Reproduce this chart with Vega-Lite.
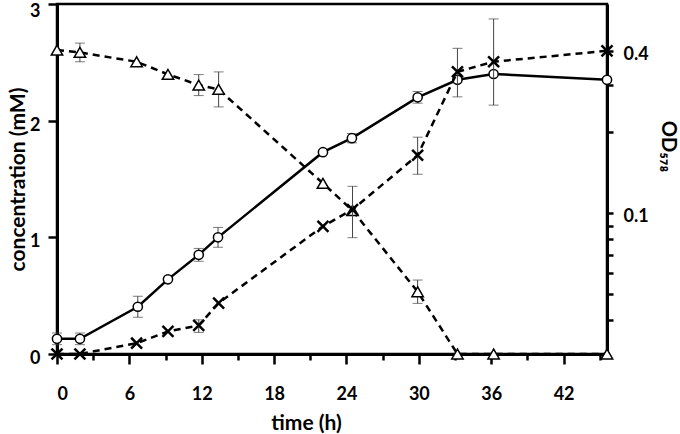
{
  "$schema": "https://vega.github.io/schema/vega-lite/v6.json",
  "width": 550,
  "height": 350,
  "autosize": {"type": "none"},
  "padding": {"left": 57, "top": 4, "right": 73, "bottom": 80},
  "background": "white",
  "config": {
    "view": {"stroke": "black", "strokeWidth": 2.5},
    "font": "Lato",
    "axis": {
      "grid": false,
      "domainColor": "black",
      "domainWidth": 3,
      "tickColor": "black",
      "tickWidth": 2.5,
      "labelFont": "Lato",
      "labelFontWeight": "bold",
      "labelFontSize": 18,
      "labelColor": "black",
      "titleFont": "Lato",
      "titleFontSize": 21,
      "titleFontWeight": "bold",
      "titleColor": "black"
    }
  },
  "datasets": {
    "d": [
      {"s": "circle", "t": 0, "v": 0.13, "lo": 0.08, "hi": 0.18},
      {"s": "circle", "t": 1.9, "v": 0.13, "lo": 0.08, "hi": 0.18},
      {"s": "circle", "t": 6.7, "v": 0.405, "lo": 0.315, "hi": 0.495},
      {"s": "circle", "t": 9.2, "v": 0.64},
      {"s": "circle", "t": 11.75, "v": 0.85, "lo": 0.795, "hi": 0.905},
      {"s": "circle", "t": 13.35, "v": 1.0, "lo": 0.915, "hi": 1.085},
      {"s": "circle", "t": 22.05, "v": 1.73},
      {"s": "circle", "t": 24.45, "v": 1.85, "lo": 1.81, "hi": 1.89},
      {"s": "circle", "t": 29.9, "v": 2.2, "lo": 2.15, "hi": 2.25},
      {"s": "circle", "t": 33.2, "v": 2.35},
      {"s": "circle", "t": 36.2, "v": 2.4},
      {"s": "circle", "t": 45.6, "v": 2.35},
      {"s": "tri", "t": 0, "v": 2.605},
      {"s": "tri", "t": 1.9, "v": 2.585, "lo": 2.505, "hi": 2.665},
      {"s": "tri", "t": 6.6, "v": 2.505},
      {"s": "tri", "t": 9.2, "v": 2.397},
      {"s": "tri", "t": 11.75, "v": 2.305, "lo": 2.215, "hi": 2.395},
      {"s": "tri", "t": 13.4, "v": 2.268, "lo": 2.118, "hi": 2.418},
      {"s": "tri", "t": 22.05, "v": 1.463},
      {"s": "tri", "t": 24.5, "v": 1.23},
      {"s": "tri", "t": 29.9, "v": 0.534, "lo": 0.434, "hi": 0.634},
      {"s": "tri", "t": 33.2, "v": 0},
      {"s": "tri", "t": 36.2, "v": 0},
      {"s": "tri", "t": 45.6, "v": 0},
      {"s": "cross", "t": 0, "v": 0.03},
      {"s": "cross", "t": 1.9, "v": 0.03},
      {"s": "cross", "t": 6.6, "v": 0.0329},
      {"s": "cross", "t": 9.2, "v": 0.0364},
      {"s": "cross", "t": 11.75, "v": 0.0383, "lo": 0.0361, "hi": 0.0402},
      {"s": "cross", "t": 13.4, "v": 0.0464},
      {"s": "cross", "t": 22.05, "v": 0.0895},
      {"s": "cross", "t": 24.5, "v": 0.1033, "lo": 0.0812, "hi": 0.126},
      {"s": "cross", "t": 29.9, "v": 0.1644, "lo": 0.1397, "hi": 0.1919},
      {"s": "cross", "t": 33.2, "v": 0.336, "lo": 0.271, "hi": 0.4106},
      {"s": "cross", "t": 36.2, "v": 0.366, "lo": 0.2525, "hi": 0.528},
      {"s": "cross", "t": 45.6, "v": 0.402}
    ]
  },
  "data": {"name": "d"},
  "encoding": {
    "x": {
      "field": "t",
      "type": "quantitative",
      "scale": {"domain": [0, 45.6], "nice": false, "zero": false},
      "axis": {
        "title": "time (h)",
        "values": [0, 3, 6, 9, 12, 15, 18, 21, 24, 27, 30, 33, 36, 39, 42, 45],
        "labelExpr": "datum.value % 6 === 0 ? datum.label : ''",
        "tickSize": {"condition": {"test": "datum.value % 6 === 0", "value": 10}, "value": 6},
        "labelPadding": 21,
        "titleX": 249,
        "titleY": 69,
        "titleAlign": "center",
        "titleBaseline": "middle"
      }
    }
  },
  "layer": [
    {
      "encoding": {
        "y": {
          "field": "v",
          "type": "quantitative",
          "scale": {"domain": [0, 3], "nice": false},
          "axis": {
            "title": "concentration (mM)",
            "orient": "left",
            "values": [0, 1, 2, 3],
            "tickSize": 9,
            "labelPadding": 8,
            "labelOffset": {"condition": {"test": "datum.value === 3", "value": 7}, "value": 4.5},
            "titleX": -39,
            "titleY": 175,
            "titleAngle": -90,
            "titleAlign": "center",
            "titleBaseline": "middle"
          }
        }
      },
      "layer": [
        {
          "transform": [{"filter": "datum.s === 'circle'"}],
          "mark": {"type": "line", "color": "black", "strokeWidth": 2.5}
        },
        {
          "transform": [{"filter": "datum.s === 'tri'"}],
          "mark": {"type": "line", "color": "black", "strokeWidth": 2.5, "strokeDash": [7, 5]}
        },
        {
          "transform": [{"filter": "datum.s !== 'cross' && isValid(datum.lo)"}],
          "mark": {"type": "errorbar", "ticks": {"size": 10}, "rule": {"strokeWidth": 1}, "color": "#444"},
          "encoding": {
            "y": {"field": "lo", "type": "quantitative", "scale": {"domain": [0, 3], "nice": false}, "title": "concentration (mM)"},
            "y2": {"field": "hi"}
          }
        },
        {
          "transform": [{"filter": "datum.s === 'circle'"}],
          "mark": {"type": "point", "shape": "circle", "filled": true, "fill": "white", "stroke": "black", "strokeWidth": 1.5, "size": 85, "opacity": 1}
        },
        {
          "transform": [{"filter": "datum.s === 'tri'"}],
          "mark": {"type": "point", "shape": "triangle-up", "filled": true, "fill": "white", "stroke": "black", "strokeWidth": 1.5, "size": 130, "opacity": 1}
        }
      ]
    },
    {
      "transform": [{"filter": "datum.s === 'cross'"}],
      "encoding": {
        "y": {
          "field": "v",
          "type": "quantitative",
          "scale": {"type": "log", "domain": [0.03, 0.6], "nice": false},
          "axis": {
            "title": "OD₅₇₈",
            "orient": "right",
            "values": [0.04, 0.05, 0.06, 0.07, 0.08, 0.09, 0.1, 0.2, 0.3, 0.4],
            "labelExpr": "(datum.value === 0.1 || datum.value === 0.4) ? format(datum.value, '.1f') : ''",
            "tickSize": 6,
            "labelPadding": 10,
            "labelOffset": 3,
            "titleFontSize": 20,
            "titleAngle": 90,
            "titleX": 60,
            "titleY": 142,
            "titleAlign": "center",
            "titleBaseline": "middle"
          }
        }
      },
      "layer": [
        {
          "mark": {"type": "line", "color": "black", "strokeWidth": 2.5, "strokeDash": [7, 5]}
        },
        {
          "transform": [{"filter": "isValid(datum.lo)"}],
          "mark": {"type": "errorbar", "ticks": {"size": 10}, "rule": {"strokeWidth": 1}, "color": "#444"},
          "encoding": {
            "y": {"field": "lo", "type": "quantitative", "scale": {"type": "log", "domain": [0.03, 0.6], "nice": false}, "title": "OD₅₇₈"},
            "y2": {"field": "hi"}
          }
        },
        {
          "mark": {"type": "point", "shape": "M-1,-1L1,1M1,-1L-1,1", "filled": false, "stroke": "black", "strokeWidth": 2.5, "size": 120, "opacity": 1}
        }
      ]
    }
  ],
  "resolve": {"scale": {"y": "independent"}}
}
